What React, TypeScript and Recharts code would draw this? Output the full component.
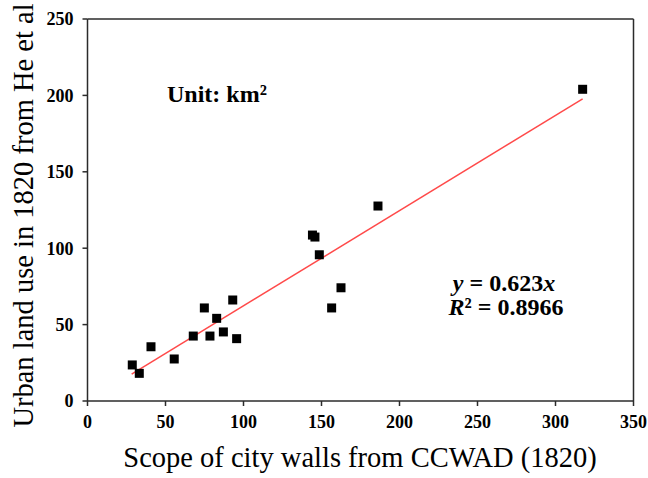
import { ScatterChart, Scatter, XAxis, YAxis, ReferenceLine } from "recharts";

const wallScope = [28.7, 33.2, 40.7, 55.6, 67.8, 74.9, 78.5, 82.8, 87.1, 93.1, 95.6, 144.2, 145.8, 148.6, 156.5, 162.5, 186.2, 317.4];
const landUse = [23.6, 18.1, 35.5, 27.5, 42.5, 60.9, 42.5, 54.1, 45.2, 66.1, 40.8, 108.6, 107.3, 95.7, 60.9, 74.1, 127.6, 204.0];
const fitX = [28.3, 317.4];
const fitY = [17.6, 197.7];
const xTicks = [0, 50, 100, 150, 200, 250, 300, 350];
const yTicks = [0, 50, 100, 150, 200, 250];

const points = wallScope.map((x, i) => ({ x, y: landUse[i] }));
const fitLine = fitX.map((x, i) => ({ x, y: fitY[i] }));

const SERIF = "'Liberation Serif', 'Times New Roman', serif";
const AXIS = "#2b2b2b";

interface SquareProps {
  cx?: number;
  cy?: number;
}

const Square = ({ cx, cy }: SquareProps) => {
  if (cx == null || cy == null) return null;
  return <rect x={cx - 4.5} y={cy - 4.5} width={9} height={9} fill="#000" />;
};

const tickStyle = { fontFamily: SERIF, fontSize: 18, fontWeight: 700, fill: "#000" };

export default function App() {
  return (
    <div style={{ position: "absolute", left: 0, top: 0, width: 648, height: 478, background: "#fff" }}>
      <ScatterChart width={648} height={478} margin={{ top: 19, right: 14.5, bottom: 0, left: 0 }}>
        <XAxis
          type="number"
          dataKey="x"
          domain={[0, 350]}
          ticks={xTicks}
          height={77}
          stroke={AXIS}
          strokeWidth={1.5}
          tickSize={5}
          tickMargin={9}
          tick={tickStyle}
          allowDataOverflow
        />
        <YAxis
          type="number"
          dataKey="y"
          domain={[0, 250]}
          ticks={yTicks}
          width={87.5}
          stroke={AXIS}
          strokeWidth={1.5}
          tickSize={5}
          tickMargin={9}
          tick={tickStyle}
          allowDataOverflow
        />
        <ReferenceLine y={250} stroke={AXIS} strokeWidth={1.5} />
        <ReferenceLine x={350} stroke={AXIS} strokeWidth={1.5} />
        <Scatter
          data={fitLine}
          line={{ stroke: "#ff4a4a", strokeWidth: 1.5 }}
          shape={() => <g />}
          isAnimationActive={false}
        />
        <Scatter data={points} shape={(p: SquareProps) => <Square {...p} />} isAnimationActive={false} />
        <text x={33} y={215.5} transform="rotate(-90 33 215.5)" textAnchor="middle" fontFamily={SERIF} fontSize={28.5} fill="#000">
          Urban land use in 1820 from He et al
        </text>
        <text x={360} y={467} textAnchor="middle" fontFamily={SERIF} fontSize={28.5} fill="#000">
          Scope of city walls from CCWAD (1820)
        </text>
        <text x={167} y={102} fontFamily={SERIF} fontSize={24} fontWeight={700} fill="#000">
          Unit: km²
        </text>
        <text x={504} y={291} textAnchor="middle" fontFamily={SERIF} fontSize={24} fontWeight={700} fill="#000">
          <tspan fontStyle="italic">y</tspan> = 0.623<tspan fontStyle="italic">x</tspan>
        </text>
        <text x={506} y={315} textAnchor="middle" fontFamily={SERIF} fontSize={24} fontWeight={700} fill="#000">
          <tspan fontStyle="italic">R</tspan>² = 0.8966
        </text>
      </ScatterChart>
    </div>
  );
}
